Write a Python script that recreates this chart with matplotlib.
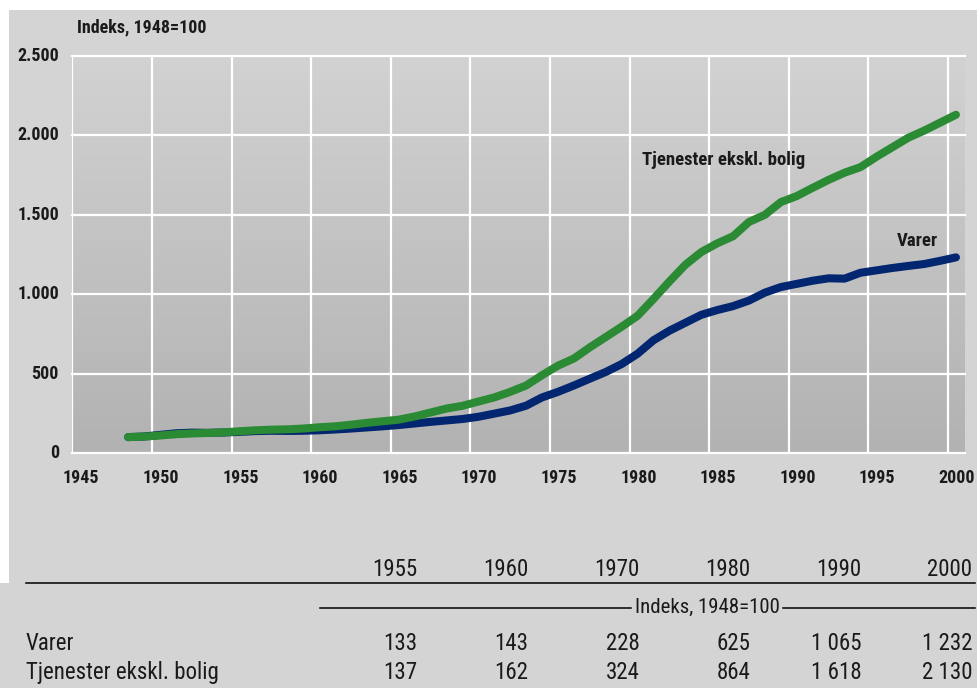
import numpy as np
import matplotlib
matplotlib.use("Agg")
import matplotlib.pyplot as plt
from matplotlib.patches import Rectangle
from matplotlib import font_manager

# prefer a narrow sans face for all text
_available = {f.name for f in font_manager.fontManager.ttflist}
_dejavu_cond = any(f.name == 'DejaVu Sans' and f.stretch == 'condensed'
                   for f in font_manager.fontManager.ttflist)
_family = None
for cand in ['Liberation Sans Narrow', 'Roboto Condensed', 'Open Sans Condensed',
             'Noto Sans Condensed', 'DejaVu Sans Condensed']:
    if cand in _available:
        _family = cand
        break
if _family is None and _dejavu_cond:
    _family = 'DejaVu Sans'
    plt.rcParams['font.stretch'] = 'condensed'
if _family is None:
    _family = 'Roboto' if 'Roboto' in _available else 'DejaVu Sans'
plt.rcParams['font.family'] = [_family, 'DejaVu Sans']

# Annual price indices, 1948 = 100
years = list(range(1948, 2001))
varer = [100, 104, 114, 124, 128, 127, 129, 133, 138, 140, 139, 140, 143,
         148, 154, 161, 168, 176, 186, 196, 205, 214, 228,
         248, 268, 298, 350, 385, 425, 468, 510, 560, 625,
         710, 770, 820, 870, 900, 925, 960, 1010, 1045, 1065,
         1085, 1100, 1098, 1135, 1150, 1165, 1178, 1190, 1210, 1232]
tjenester = [100, 103, 110, 118, 123, 126, 130, 137, 143, 147, 149, 154, 162,
             168, 178, 190, 200, 210, 230, 255, 280, 297, 324,
             350, 385, 425, 490, 550, 595, 665, 730, 795, 864,
             970, 1080, 1185, 1265, 1320, 1365, 1455, 1500, 1580, 1618,
             1670, 1720, 1765, 1800, 1865, 1925, 1985, 2030, 2080, 2130]

x_ticks = list(range(1945, 2001, 5))
y_ticks = [0, 500, 1000, 1500, 2000, 2500]
y_tick_labels = ["0", "500", "1.000", "1.500", "2.000", "2.500"]

table_years = ["1955", "1960", "1970", "1980", "1990", "2000"]
table_rows = ["Varer", "Tjenester ekskl. bolig"]
table_varer = ["133", "143", "228", "625", "1 065", "1 232"]
table_tjenester = ["137", "162", "324", "864", "1 618", "2 130"]

GREEN = "#2b8a34"
NAVY = "#02266f"
BG = "#d4d4d4"
TXT = "#1a1a1a"
W, H = 978, 688

fig = plt.figure(figsize=(W / 100, H / 100), dpi=100)
fig.patch.set_facecolor(BG)


def fx(px):
    return px / W


def fy(py):
    return 1 - py / H


# white margins along the top and left edge
fig.patches.append(Rectangle((0, fy(10)), 1, 1 - fy(10), transform=fig.transFigure,
                             facecolor="white", edgecolor="none", zorder=0))
fig.patches.append(Rectangle((0, fy(583)), fx(9), fy(10) - fy(583), transform=fig.transFigure,
                             facecolor="white", edgecolor="none", zorder=0))

left, right, top, bottom = 72.4, 965, 56, 453
ax = fig.add_axes([fx(left), fy(bottom), fx(right - left), fy(top) - fy(bottom)])
x_max = 1945 + (right - left) / 15.92
for s in ax.spines.values():
    s.set_visible(False)

# vertical gradient fill of the plotting area, light at the top
grad = np.linspace(0, 1, 256).reshape(-1, 1)
top_c = np.array([210, 210, 210]) / 255
bot_c = np.array([178, 178, 178]) / 255
img = top_c + (bot_c - top_c) * grad
ax.imshow(img.reshape(256, 1, 3), extent=(1945, x_max, 0, 2500), aspect='auto',
          zorder=0, origin='upper')
ax.set_xlim(1945, x_max)
ax.set_ylim(0, 2500)

for xv in x_ticks:
    ax.axvline(xv, color="white", lw=1.6, zorder=1)
for yv in y_ticks:
    ax.axhline(yv, color="white", lw=1.6, zorder=1, clip_on=False)

# series plotted at mid-year
xs = np.array(years) + 0.5
ax.plot(xs, varer, color=NAVY, lw=5.8, solid_capstyle='round', solid_joinstyle='round', zorder=3)
ax.plot(xs, tjenester, color=GREEN, lw=5.8, solid_capstyle='round', solid_joinstyle='round', zorder=4)

ax.set_xticks([])
ax.set_yticks([])
for xv in x_ticks:
    ax.text(xv + 0.55, -160, str(xv), ha='center', va='center', fontsize=13,
            fontweight='bold', color=TXT, clip_on=False)
for yv, lab in zip(y_ticks, y_tick_labels):
    ax.text(1945 - 0.85, yv, lab, ha='right', va='center', fontsize=13,
            fontweight='bold', color=TXT, clip_on=False)

ax.text(1980.8, 1845, "Tjenester ekskl. bolig", ha='left', va='center', fontsize=13.5,
        fontweight='bold', color=TXT)
ax.text(1996.8, 1335, "Varer", ha='left', va='center', fontsize=13.5,
        fontweight='bold', color=TXT)

fig.text(fx(77), fy(27), "Indeks, 1948=100", ha='left', va='center', fontsize=13,
         fontweight='bold', color=TXT)

# summary table beneath the chart
col_right = [417.5, 528.5, 639.5, 750.5, 861.5, 972.5]
tfs = 16.5
for xr, lab in zip(col_right, table_years):
    fig.text(fx(xr), fy(569.5), lab, ha='right', va='center', fontsize=tfs, color=TXT)
fig.add_artist(plt.Line2D([fx(26), fx(975)], [fy(583), fy(583)], color="black", lw=1.1))

unit = fig.text(fx(707), fy(607.5), "Indeks, 1948=100", ha='center', va='center',
                fontsize=15, color=TXT)
renderer = fig.canvas.get_renderer()
bb = unit.get_window_extent(renderer=renderer)
gap = 4
fig.add_artist(plt.Line2D([fx(320), (bb.x0 - gap) / W], [fy(607.5), fy(607.5)],
                          color="black", lw=1.1))
fig.add_artist(plt.Line2D([(bb.x1 + gap) / W, fx(975)], [fy(607.5), fy(607.5)],
                          color="black", lw=1.1))

for row_y, name, vals in zip([644, 672.5], table_rows, [table_varer, table_tjenester]):
    fig.text(fx(26), fy(row_y), name, ha='left', va='center', fontsize=tfs, color=TXT)
    for xr, v in zip(col_right, vals):
        fig.text(fx(xr), fy(row_y), v, ha='right', va='center', fontsize=tfs, color=TXT)

fig.savefig("out.png", dpi=100, facecolor=fig.get_facecolor())
